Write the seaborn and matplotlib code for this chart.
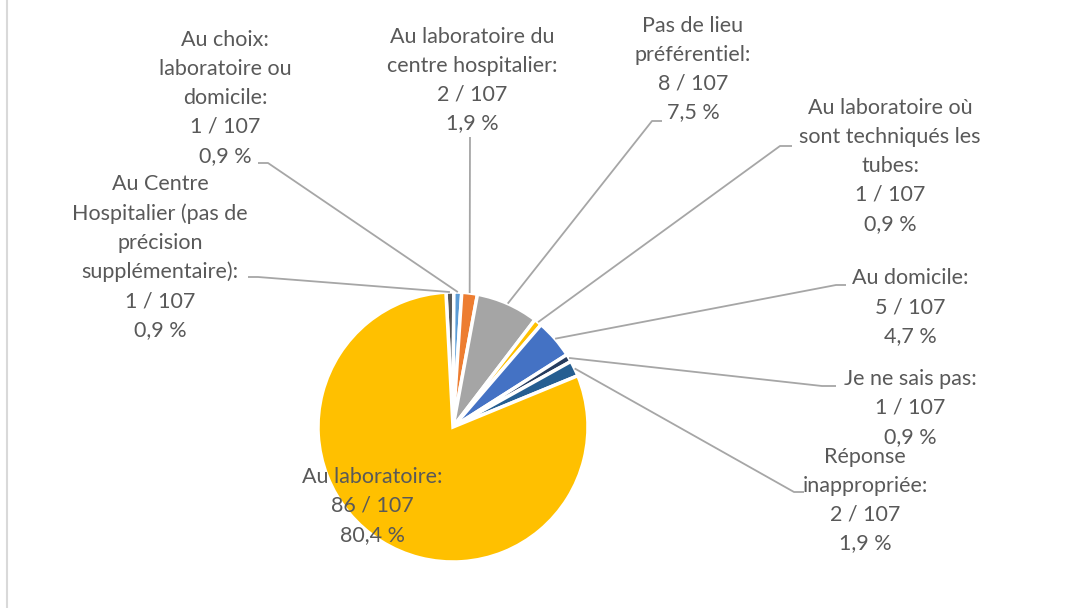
import numpy as np
import matplotlib
matplotlib.use("Agg")
import matplotlib.pyplot as plt
import seaborn as sns

sns.set_theme(style="white")
plt.rcParams['font.family'] = ['Lato', 'DejaVu Sans']

# Données (lieu de prélèvement préféré)
labels = [
    "Au Centre\nHospitalier (pas de\nprécision\nsupplémentaire):",
    "Au choix:\nlaboratoire ou\ndomicile:",
    "Au laboratoire du\ncentre hospitalier:",
    "Pas de lieu\npréférentiel:",
    "Au laboratoire où\nsont techniqués les\ntubes:",
    "Au domicile:",
    "Je ne sais pas:",
    "Réponse\ninappropriée:",
    "Au laboratoire:",
]
counts = [1, 1, 2, 8, 1, 5, 1, 2, 86]
total = 107
colors = ["#595959", "#5B9BD5", "#ED7D31", "#A5A5A5", "#FFC000",
          "#4472C4", "#263C5E", "#255E91", "#FFC000"]

# mise en page (pixels, y vers le bas)
W, H = 1083, 608
cx, cy, R = 453, 427, 135
text_pos = [(160, 257), (225, 98), (472, 80), (693, 69), (890, 166),
            (910, 307), (910, 408), (865, 500), (372, 506)]
# (coude, fin) des lignes de rappel
leaders = [((258, 277), (248, 277)), ((268, 163), (258, 163)),
           ((470, 137), (470, 137)), ((652, 121), (662, 121)),
           ((780, 146), (792, 146)), ((836, 285), (846, 285)),
           ((822, 386), (836, 386)), ((794, 492), (804, 492)), None]

fig = plt.figure(figsize=(W / 100, H / 100), dpi=100)
ax = fig.add_axes([0, 0, 1, 1])

wedges, _ = ax.pie(counts, colors=colors, startangle=93, counterclock=False,
                   center=(cx, H - cy), radius=R,
                   wedgeprops=dict(edgecolor="white", linewidth=2.5))

txt_color = "#595959"
for w, lab, n, pos, ld in zip(wedges, labels, counts, text_pos, leaders):
    pct = f"{100 * n / total:.1f}".replace(".", ",")
    ax.text(pos[0], H - pos[1], f"{lab}\n{n} / {total}\n{pct} %",
            ha="center", va="center", multialignment="center",
            fontsize=15.5, color=txt_color, linespacing=1.55, zorder=5)
    if ld is None:
        continue
    ang = np.deg2rad((w.theta1 + w.theta2) / 2)
    px = cx + R * np.cos(ang)
    py = H - cy + R * np.sin(ang)
    (ex, ey), (fx, fy) = ld
    ax.plot([px, ex, fx], [py, H - ey, H - fy], color="#A6A6A6", lw=1.3,
            zorder=4, solid_capstyle="butt")

ax.plot([7, 7], [0, H], color="#D9D9D9", lw=1.5)
ax.set_xlim(0, W)
ax.set_ylim(0, H)
ax.set_aspect("equal")
ax.axis("off")

fig.savefig("out.png", dpi=100)
